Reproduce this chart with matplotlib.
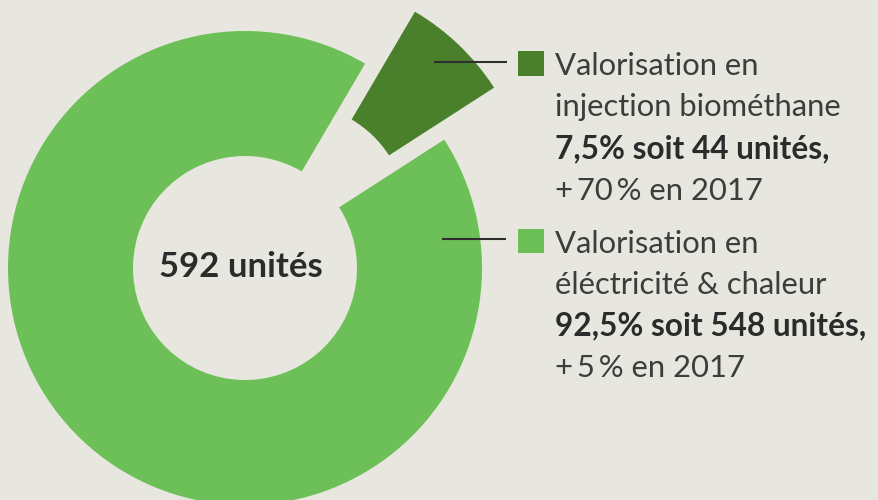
import matplotlib
matplotlib.use("Agg")
import matplotlib.pyplot as plt

# Data
categories = ["Valorisation en\ninjection biométhane", "Valorisation en\néléctricité & chaleur"]
units = [44, 548]
shares = ["7,5%", "92,5%"]
growth = ["+\u200970\u2009% en 2017", "+\u20095\u2009% en 2017"]
total_label = "592 unités"

colors = ["#4a7f2c", "#6dbf57"]
bg = "#e7e6df"
W, H = 879, 500

fig = plt.figure(figsize=(W / 100, H / 100), dpi=100, facecolor=bg)
ax = fig.add_axes([0, 0, 1, 1])
ax.set_facecolor(bg)

cx, cy = 245, H - 268
R = 237
ax.pie(units, colors=colors, startangle=32.8, counterclock=True,
       explode=[72, 0], center=(cx, cy), radius=R,
       wedgeprops=dict(width=R - 112, linewidth=0), frame=True)
ax.set_xlim(0, W)
ax.set_ylim(0, H)
ax.set_aspect("equal")
ax.axis("off")

ax.text(cx - 4, H - 277, total_label, ha="center", va="baseline",
        fontsize=25, fontweight="bold", color="#2b2b2b", family="Lato")

label_font = ["Lato", "DejaVu Sans"]
text_color = "#3d3d3d"
groups = [
    dict(line_y=62, line_x=(434, 507), sq_y=(51, 76), base=[75, 116, 158, 200]),
    dict(line_y=239, line_x=(442, 506), sq_y=(229, 253), base=[253, 294, 335, 377]),
]
for i, g in enumerate(groups):
    ax.plot(g["line_x"], [H - g["line_y"]] * 2, color="#2e2e2e", lw=1.5,
            solid_capstyle="butt")
    y0, y1 = g["sq_y"]
    ax.add_patch(plt.Rectangle((518, H - y1), 26, y1 - y0, color=colors[i], lw=0))
    l1, l2 = categories[i].split("\n")
    bold = f"{shares[i]} soit {units[i]} unités,"
    for txt, b, wt in zip([l1, l2, bold, growth[i]], g["base"],
                          ["normal", "normal", "bold", "normal"]):
        ax.text(555, H - b, txt, ha="left", va="baseline",
                fontsize=22.8 if wt == "bold" else 22.3,
                fontweight=wt, color="#2b2b2b" if wt == "bold" else text_color,
                family=label_font)

fig.savefig("out.png", dpi=100, facecolor=bg)
